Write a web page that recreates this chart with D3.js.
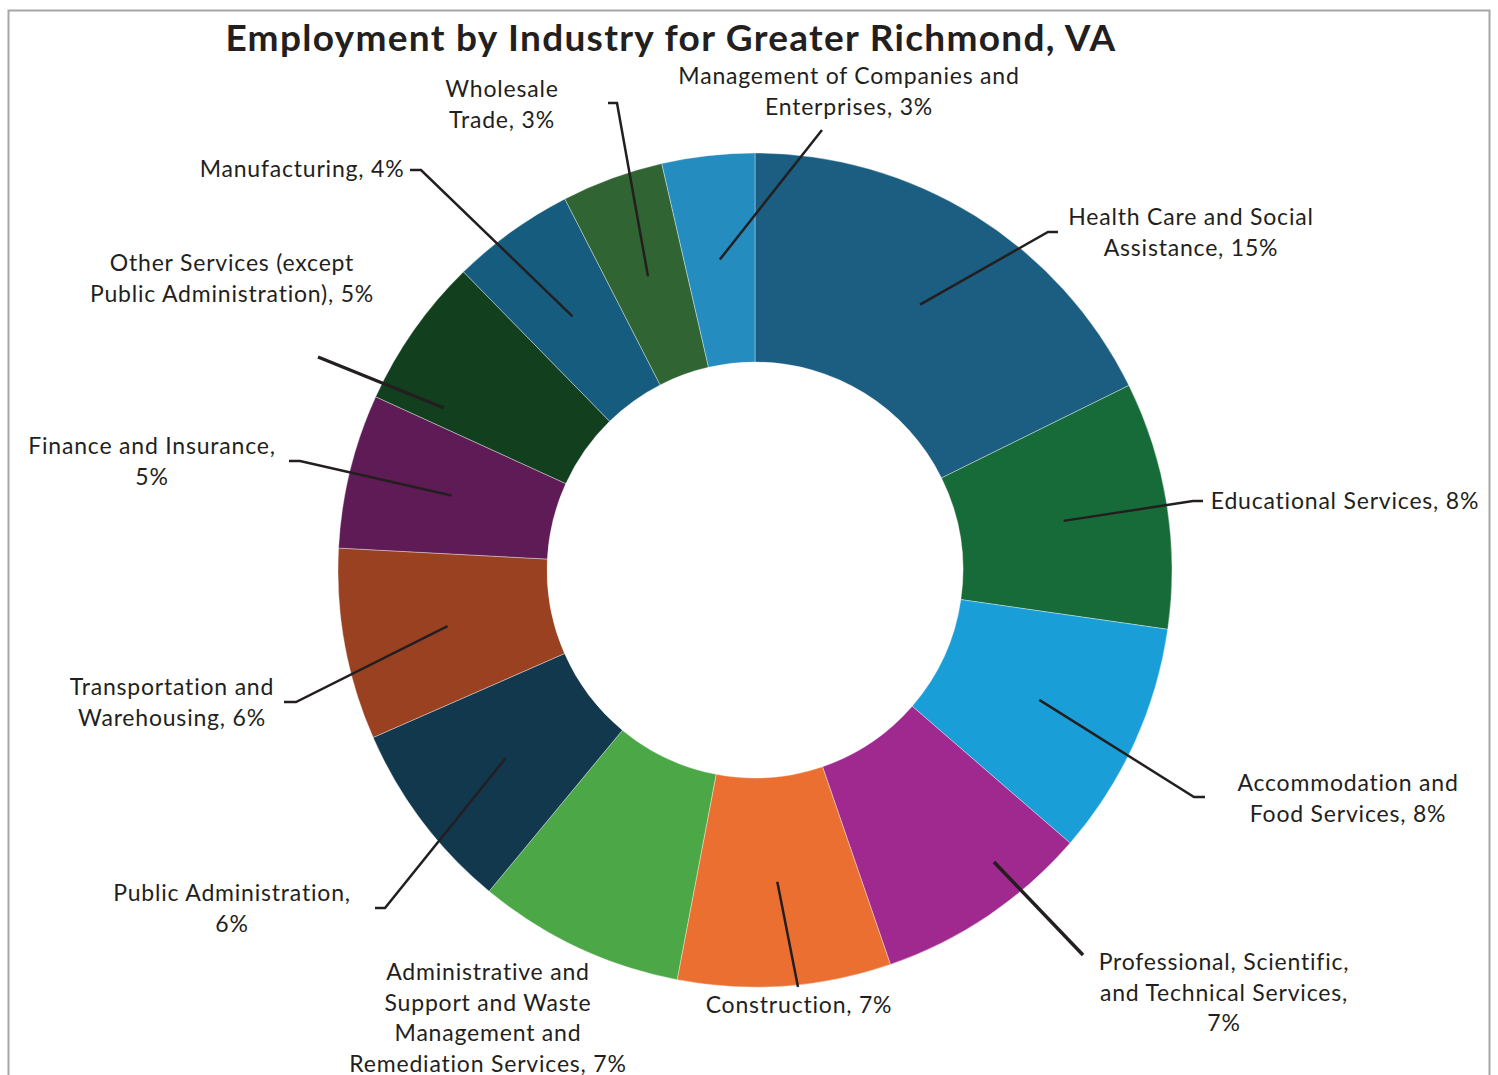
<!DOCTYPE html>
<html>
<head>
<meta charset="utf-8">
<script src="https://cdn.jsdelivr.net/npm/d3@7"></script>
<style>
  body { margin: 0; background: #fff; }
  text { font-family: Lato, "Open Sans", sans-serif; fill: #231f20; }
</style>
</head>
<body>
<div id="chart"></div>
<script>
// data, clockwise from 12 o'clock
let industries = [
    "Health Care and Social Assistance",
    "Educational Services",
    "Accommodation and Food Services",
    "Professional, Scientific, and Technical Services",
    "Construction",
    "Administrative and Support and Waste Management and Remediation Services",
    "Public Administration",
    "Transportation and Warehousing",
    "Finance and Insurance",
    "Other Services (except Public Administration)",
    "Manufacturing",
    "Wholesale Trade",
    "Management of Companies and Enterprises"
];
let shares = [14.8, 8.0, 7.6, 7.0, 6.9, 6.7, 6.2, 6.2, 5.0, 4.9, 4.0, 3.3, 3.0];
let colors = ["#1b5e81", "#176b38", "#1a9ed7", "#a0298f", "#eb6f30", "#4ca847", "#12384e",
    "#9a4122", "#5e1b56", "#12401e", "#165c7e", "#306432", "#258cc0"];
// how each label wraps, {p} = percent
let labelLines = [
    ["Health Care and Social", "Assistance, {p}%"],
    ["Educational Services, {p}%"],
    ["Accommodation and", "Food Services, {p}%"],
    ["Professional, Scientific,", "and Technical Services,", "{p}%"],
    ["Construction, {p}%"],
    ["Administrative and", "Support and Waste", "Management and", "Remediation Services, {p}%"],
    ["Public Administration,", "{p}%"],
    ["Transportation and", "Warehousing, {p}%"],
    ["Finance and Insurance,", "{p}%"],
    ["Other Services (except", "Public Administration), {p}%"],
    ["Manufacturing, {p}%"],
    ["Wholesale", "Trade, {p}%"],
    ["Management of Companies and", "Enterprises, {p}%"]
];

// label placement relative to the donut centre: elbow, tail, text centre, leader width
// (start overrides the arc centroid where the original leader was dragged)
let labelLayout = [
    { elbow: [293, -338], tail: 10, text: [436, -353], w: 2.5 },
    { elbow: [438, -69], tail: 10, text: [590, -69], w: 2.5 },
    { elbow: [439, 227], tail: 11, text: [593, 213], w: 2.5 },
    { start: [239, 292], elbow: [328, 385], tail: 0, text: [469, 392], w: 3.5 },
    { elbow: [43, 417], tail: 0, text: [44, 435], w: 2.5 },
    { elbow: null, tail: 0, text: [-267, 402], w: 2.5 },
    { elbow: [-370, 338], tail: -10, text: [-523, 323], w: 2.5 },
    { elbow: [-459, 132], tail: -12, text: [-583, 117], w: 2.5 },
    { elbow: [-455, -109], tail: -11, text: [-603, -124], w: 2.5 },
    { start: [-311, -162], elbow: [-437, -213], tail: 0, text: [-523, -307], w: 3.5 },
    { elbow: [-334, -400], tail: -11, text: [-453, -401], w: 2.5 },
    { elbow: [-138, -467], tail: -9, text: [-253, -481], w: 2.5 },
    { elbow: [67, -440], tail: 0, text: [94, -494], w: 2.5 }
];

let width = 1498, height = 1075;
let cx = 755, cy = 570;
let outerR = 417, innerR = 208;
let lineH = 30.5;

let svg = d3.select("#chart").append("svg")
    .attr("width", width)
    .attr("height", height);

// frame
svg.append("rect")
    .attr("x", 8.5)
    .attr("y", 10.5)
    .attr("width", 1481)
    .attr("height", 1100)
    .attr("fill", "none")
    .attr("stroke", "#a6a6a6")
    .attr("stroke-width", 2);

svg.append("text")
    .attr("x", 671)
    .attr("y", 51)
    .attr("text-anchor", "middle")
    .style("font-size", "37px")
    .style("font-weight", 700)
    .style("letter-spacing", "1.3px")
    .text("Employment by Industry for Greater Richmond, VA");

let pie = d3.pie().sort(null).value(d => d);
let arcs = pie(shares);
let arc = d3.arc().innerRadius(innerR).outerRadius(outerR);

let g = svg.append("g")
    .attr("transform", "translate(" + cx + "," + cy + ")");

g.selectAll(".slice")
    .data(arcs)
    .join("path")
    .attr("class", "slice")
    .attr("d", arc)
    .attr("fill", (d, i) => colors[i])
    .attr("stroke", "#ffffff")
    .attr("stroke-opacity", 0.6)
    .attr("stroke-width", 0.6);

// leader lines
let line = d3.line();
g.selectAll(".leader")
    .data(arcs.filter((d, i) => labelLayout[i].elbow))
    .join("path")
    .attr("class", "leader")
    .attr("d", d => {
        let L = labelLayout[d.index];
        let pts = [L.start || arc.centroid(d), L.elbow];
        if (L.tail) pts.push([L.elbow[0] + L.tail, L.elbow[1]]);
        return line(pts);
    })
    .attr("fill", "none")
    .attr("stroke", "#231f20")
    .attr("stroke-width", d => labelLayout[d.index].w);

// labels
let labels = g.selectAll(".label")
    .data(arcs)
    .join("text")
    .attr("class", "label")
    .attr("text-anchor", "middle")
    .style("font-size", "23px")
    .style("letter-spacing", "0.8px");

labels.each(function (d, i) {
    let L = labelLayout[i];
    let pct = Math.round(d.data);
    d3.select(this).selectAll("tspan")
        .data(labelLines[i])
        .join("tspan")
        .attr("x", L.text[0])
        .attr("y", (s, j) => L.text[1] + j * lineH)
        .attr("dy", "0.35em")
        .text(s => s.replace("{p}", pct));
});
</script>
</body>
</html>
